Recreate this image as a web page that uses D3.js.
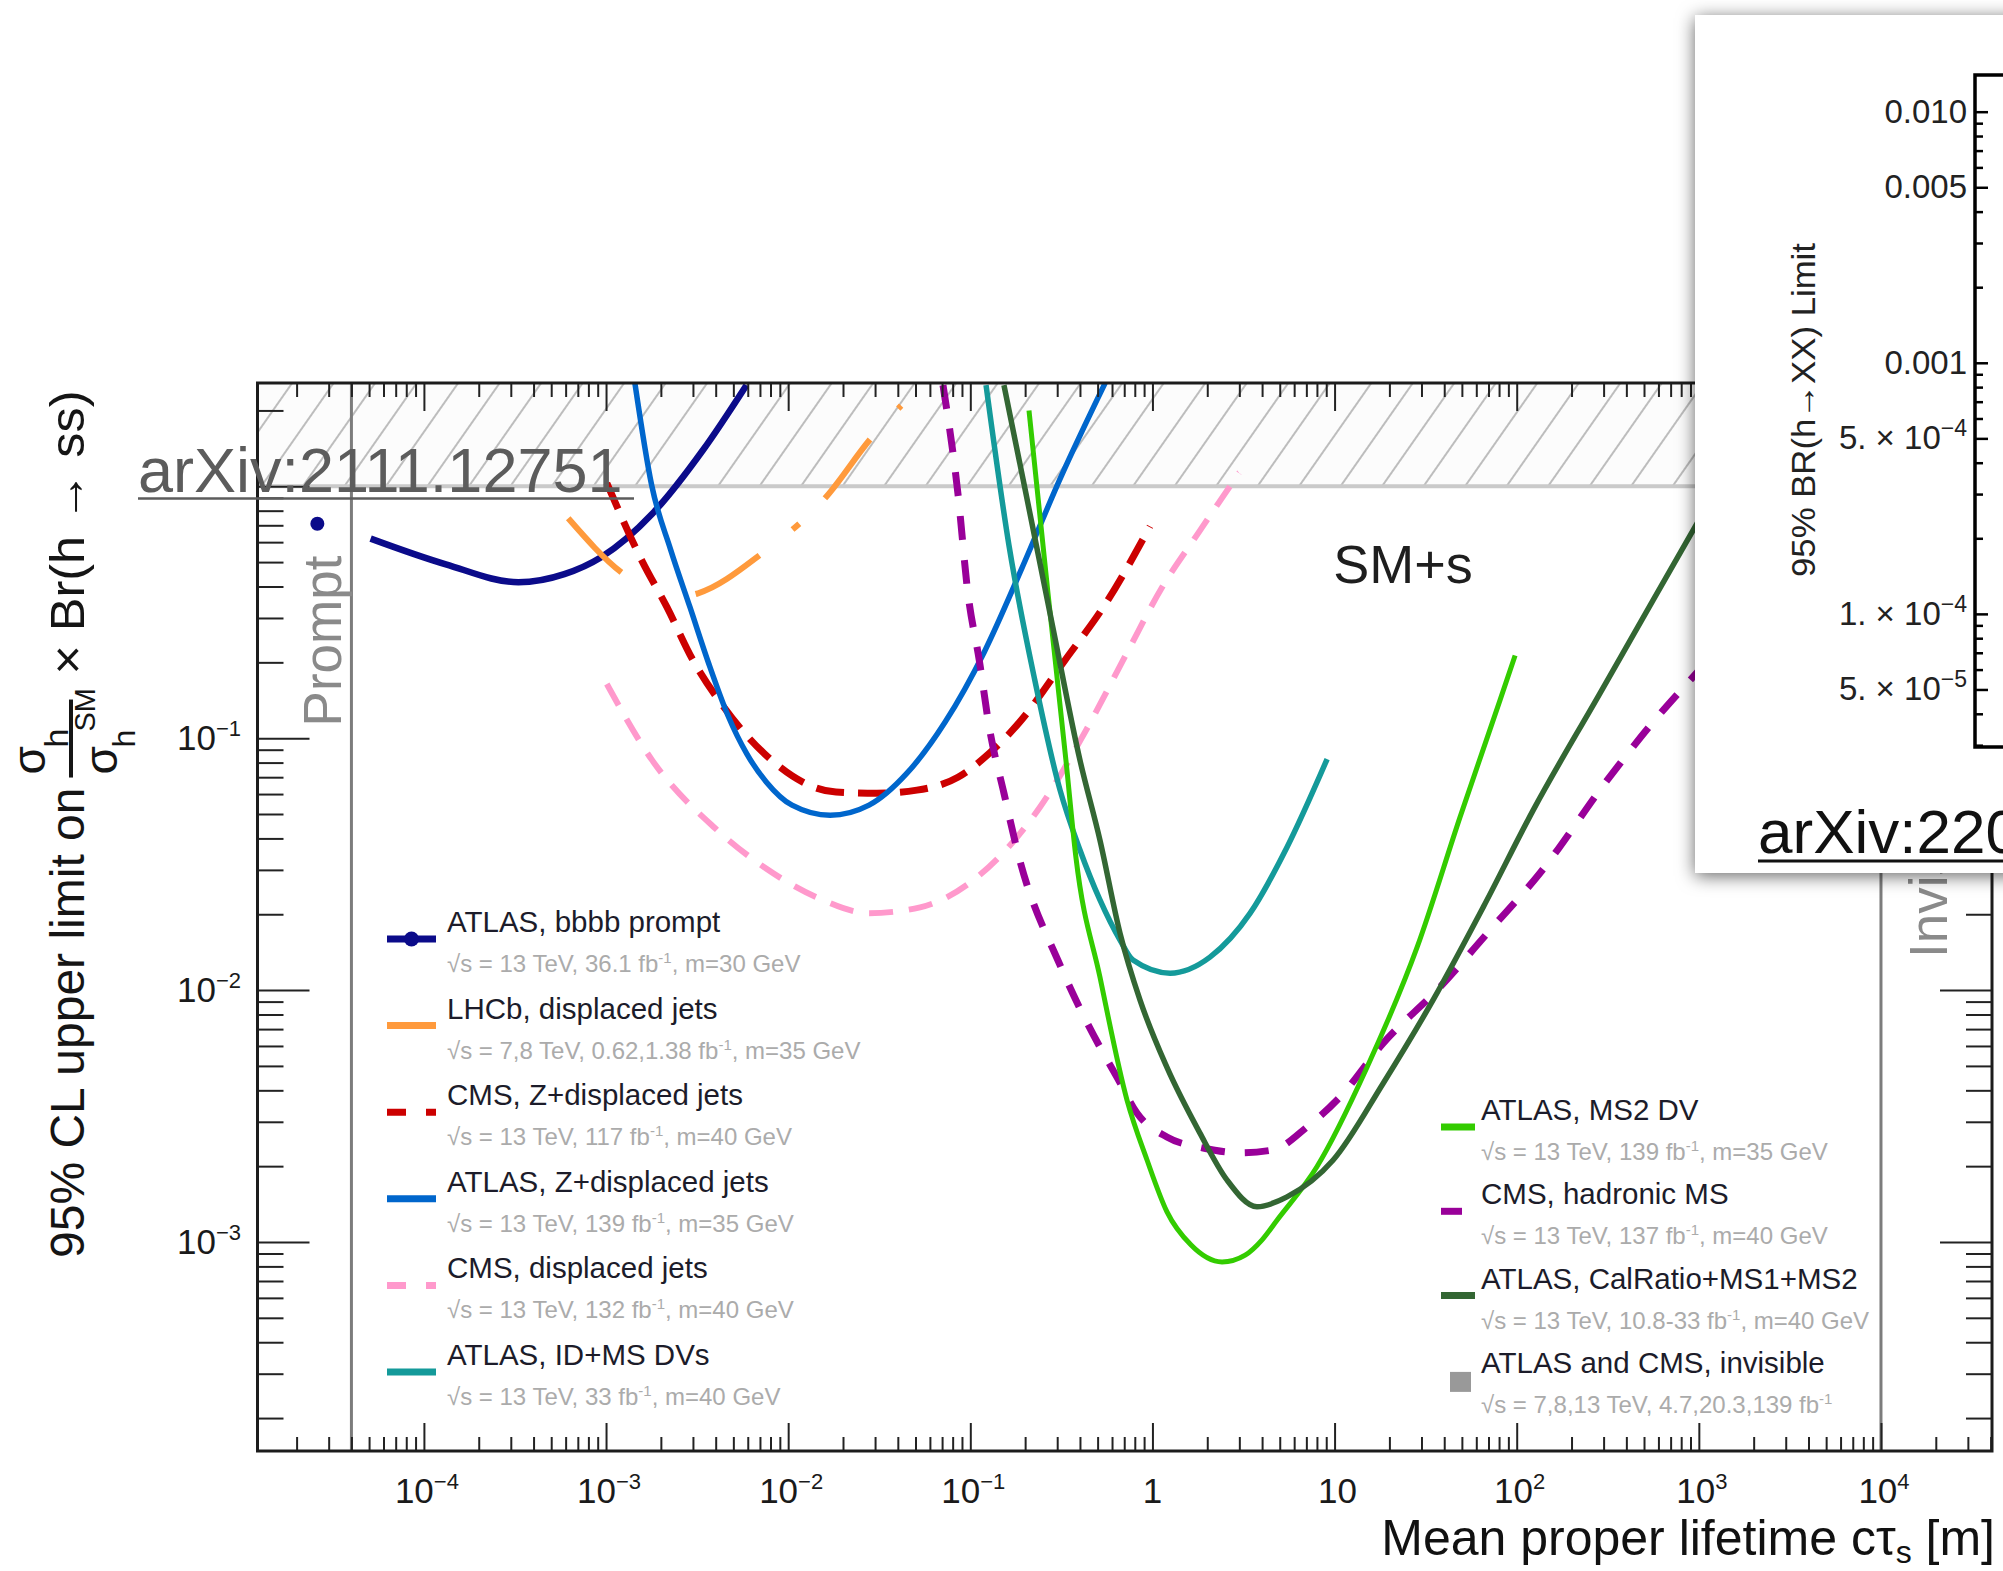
<!DOCTYPE html>
<html>
<head>
<meta charset="utf-8">
<script src="https://cdn.jsdelivr.net/npm/d3@7"></script>
<style>
  html, body { margin: 0; padding: 0; background: #fff; }
  svg { display: block; font-family: "Liberation Sans", Arial, Helvetica, sans-serif; }
</style>
</head>
<body>
<svg id="chart" width="2003" height="1571"></svg>
<script>
// ---- data (ctau in m, limit on sigma/sigma_SM x Br) ----
const bbbbCtau  = [5.1e-5, 1.32e-4, 3.3e-4, 5.9e-4, 9.4e-4, 1.8e-3, 3.4e-3, 5.9e-3];
const bbbbLimit = [0.62, 0.49, 0.416, 0.448, 0.523, 0.78, 1.39, 2.52];
const promptCtau  = [2.6e-5];
const promptLimit = [0.71];

const lhcbCtau  = [6.2e-4, 1.21e-3, 2.2e-3, 3.2e-3, 7.2e-3, 0.0161, 0.0285, 0.0417];
const lhcbLimit = [0.746, 0.456, 0.36, 0.376, 0.542, 0.904, 1.55, 2.09];

const cmsZCtau  = [1.01e-3, 1.57e-3, 2.16e-3, 3.0e-3, 4.43e-3, 7.36e-3, 0.0183, 0.0307, 0.0509, 0.0855, 0.127, 0.185, 0.331, 0.556, 0.97];
const cmsZLimit = [1.03, 0.508, 0.331, 0.204, 0.133, 0.0871, 0.0611, 0.0605, 0.0622, 0.070, 0.087, 0.115, 0.204, 0.344, 0.693];

const atlasZCtau  = [1.44e-3, 1.78e-3, 2.26e-3, 2.89e-3, 3.67e-3, 4.67e-3, 5.94e-3, 7.6e-3, 0.0105, 0.0170, 0.0278, 0.0449, 0.0726, 0.119, 0.192, 0.311, 0.55];
const atlasZLimit = [2.57, 1.01, 0.562, 0.331, 0.197, 0.123, 0.0864, 0.0669, 0.0542, 0.0494, 0.0542, 0.0726, 0.1156, 0.219, 0.473, 1.07, 2.57];

const cmsDjCtau  = [1.01e-3, 1.79e-3, 3.96e-3, 7.6e-3, 0.0146, 0.0278, 0.053, 0.101, 0.241, 0.432, 0.724, 1.13, 1.78, 2.99];
const cmsDjLimit = [0.164, 0.0818, 0.044, 0.0303, 0.0232, 0.0202, 0.0213, 0.0269, 0.0532, 0.1076, 0.218, 0.397, 0.65, 1.13];

const idmsCtau  = [0.122, 0.163, 0.226, 0.311, 0.40, 0.515, 0.664, 0.782, 1.25, 2.07, 3.44, 5.48, 9.1];
const idmsLimit = [2.52, 0.583, 0.170, 0.0622, 0.036, 0.0228, 0.0158, 0.01315, 0.01167, 0.01352, 0.0202, 0.0369, 0.0826];

const cmsMsCtau  = [0.0708, 0.0855, 0.097, 0.112, 0.127, 0.153, 0.185, 0.311, 0.515, 0.638, 0.822, 1.20, 1.90, 3.03, 4.59, 7.06, 10.7, 18.5, 37.9, 71.4, 134, 314, 590, 863, 1690];
const cmsMsLimit = [2.52, 0.937, 0.376, 0.204, 0.1107, 0.0605, 0.0337, 0.01256, 5.94e-3, 4.52e-3, 3.25e-3, 2.61e-3, 2.36e-3, 2.26e-3, 2.32e-3, 2.86e-3, 3.76e-3, 6.16e-3, 0.01028, 0.0173, 0.0291, 0.0681, 0.121, 0.165, 0.281];

const ms2Ctau  = [0.21, 0.267, 0.335, 0.380, 0.515, 0.725, 0.933, 1.20, 1.63, 2.41, 3.23, 4.0, 4.83, 8.0, 15.1, 28.4, 48.9, 81, 98];
const ms2Limit = [2.0, 0.376, 0.0818, 0.0337, 0.01127, 3.66e-3, 2.12e-3, 1.32e-3, 9.72e-4, 8.33e-4, 8.87e-4, 1.02e-3, 1.22e-3, 1.99e-3, 4.95e-3, 0.0148, 0.0487, 0.1416, 0.213];

const calCtau  = [0.153, 0.202, 0.284, 0.40, 0.515, 0.664, 0.855, 1.20, 1.82, 2.57, 3.75, 5.48, 9.8, 18.5, 34.7, 65.4, 123, 287, 561, 931, 1700];
const calLimit = [2.52, 0.937, 0.275, 0.0818, 0.0394, 0.0168, 9.12e-3, 4.94e-3, 2.71e-3, 1.76e-3, 1.38e-3, 1.51e-3, 2.11e-3, 4.27e-3, 9.12e-3, 0.0213, 0.0517, 0.151, 0.353, 0.669, 1.43];

const promptEdge = 4e-5;      // prompt region boundary
const invisibleEdge = 1e4;    // invisible region boundary
const hatchFrom = 1;          // excluded region above limit = 1

const xTickExp = [-4, -3, -2, -1, 0, 1, 2, 3, 4];
const yTickExp = [-1, -2, -3];

const legendLeftTitles = ['ATLAS, bbbb prompt', 'LHCb, displaced jets', 'CMS, Z+displaced jets',
  'ATLAS, Z+displaced jets', 'CMS, displaced jets', 'ATLAS, ID+MS DVs'];
const legendLeftSubs = [
  ['√s = 13 TeV, 36.1 fb', '-1', ', m=30 GeV'],
  ['√s = 7,8 TeV, 0.62,1.38 fb', '-1', ', m=35 GeV'],
  ['√s = 13 TeV, 117 fb', '-1', ', m=40 GeV'],
  ['√s = 13 TeV, 139 fb', '-1', ', m=35 GeV'],
  ['√s = 13 TeV, 132 fb', '-1', ', m=40 GeV'],
  ['√s = 13 TeV, 33 fb', '-1', ', m=40 GeV']
];
const legendRightTitles = ['ATLAS, MS2 DV', 'CMS, hadronic MS', 'ATLAS, CalRatio+MS1+MS2', 'ATLAS and CMS, invisible'];
const legendRightSubs = [
  ['√s = 13 TeV, 139 fb', '-1', ', m=35 GeV'],
  ['√s = 13 TeV, 137 fb', '-1', ', m=40 GeV'],
  ['√s = 13 TeV, 10.8-33 fb', '-1', ', m=40 GeV'],
  ['√s = 7,8,13 TeV, 4.7,20.3,139 fb', '-1', '']
];

// inset (arXiv:220...) axis
const insetTickValues = [0.01, 0.005, 0.001, 5e-4, 1e-4, 5e-5];
const insetTickLabels = [['0.010', ''], ['0.005', ''], ['0.001', ''], ['5. × 10', '−4'], ['1. × 10', '−4'], ['5. × 10', '−5']];

// ---- layout ----
const W = 2003, H = 1571;
const frame = { left: 257.5, right: 1992, top: 383, bottom: 1451 };
const svg = d3.select('#chart');
const defs = svg.append('defs');

const x = d3.scaleLog().domain([1.22e-5, 4.07e4]).range([frame.left, frame.right]);
const y = d3.scaleLog().domain([1.48e-4, 2.57]).range([frame.bottom, frame.top]);

defs.append('clipPath').attr('id', 'plotClip')
  .append('rect')
    .attr('x', frame.left).attr('y', frame.top)
    .attr('width', frame.right - frame.left).attr('height', frame.bottom - frame.top);

const hatch = defs.append('pattern')
  .attr('id', 'hatch')
  .attr('patternUnits', 'userSpaceOnUse')
  .attr('width', 34).attr('height', 34)
  .attr('patternTransform', 'rotate(35)');
hatch.append('rect').attr('width', 34).attr('height', 34).attr('fill', '#fcfcfc');
hatch.append('line')
  .attr('x1', 17).attr('x2', 17).attr('y1', 0).attr('y2', 34)
  .attr('stroke', '#a8a8a8').attr('stroke-width', 1.5);

const shadow = defs.append('filter').attr('id', 'shadow')
  .attr('x', '-20%').attr('y', '-20%').attr('width', '150%').attr('height', '140%');
shadow.append('feDropShadow')
  .attr('dx', 0).attr('dy', 3).attr('stdDeviation', 9)
  .attr('flood-color', '#000').attr('flood-opacity', 0.6);

// hatched excluded band (limit > 1)
svg.append('rect')
  .attr('x', frame.left).attr('y', frame.top)
  .attr('width', frame.right - frame.left).attr('height', y(hatchFrom) - frame.top)
  .attr('fill', 'url(#hatch)');
svg.append('line')
  .attr('x1', frame.left).attr('x2', frame.right)
  .attr('y1', y(hatchFrom)).attr('y2', y(hatchFrom))
  .attr('stroke', '#cacaca').attr('stroke-width', 4);

// prompt / invisible boundaries
[promptEdge, invisibleEdge].forEach(v => {
  svg.append('line')
    .attr('x1', x(v)).attr('x2', x(v))
    .attr('y1', frame.top).attr('y2', frame.bottom)
    .attr('stroke', '#7c7c7c').attr('stroke-width', 3);
});

// ---- curves ----
const zip = (a, b) => a.map((v, i) => [v, b[i]]);
const series = [
  { pts: zip(bbbbCtau, bbbbLimit),   color: '#0b0b8a', w: 6.5 },
  { pts: zip(lhcbCtau, lhcbLimit),   color: '#ff9a3c', w: 6, dash: '76 82 75 42 9 36 74 42 6 300' },
  { pts: zip(cmsZCtau, cmsZLimit),   color: '#cc0000', w: 7, dash: '28 14' },
  { pts: zip(atlasZCtau, atlasZLimit), color: '#0066cc', w: 5.5 },
  { pts: zip(cmsDjCtau, cmsDjLimit), color: '#ff99cc', w: 6, dash: '24 16' },
  { pts: zip(idmsCtau, idmsLimit),   color: '#149a9a', w: 5.5 },
  { pts: zip(cmsMsCtau, cmsMsLimit), color: '#990099', w: 7, dash: '24 20' },
  { pts: zip(ms2Ctau, ms2Limit),     color: '#33cc00', w: 5 },
  { pts: zip(calCtau, calLimit),     color: '#336633', w: 5.5 }
];

const line = d3.line()
  .x(d => x(d[0]))
  .y(d => y(d[1]))
  .curve(d3.curveMonotoneX);

const curves = svg.append('g').attr('clip-path', 'url(#plotClip)');
curves.selectAll('path')
  .data(series)
  .join('path')
    .attr('d', d => line(d.pts))
    .attr('fill', 'none')
    .attr('stroke', d => d.color)
    .attr('stroke-width', d => d.w)
    .attr('stroke-dasharray', d => d.dash || null)
    .attr('stroke-linecap', 'butt');

curves.selectAll('circle')
  .data(zip(promptCtau, promptLimit))
  .join('circle')
    .attr('cx', d => x(d[0]))
    .attr('cy', d => y(d[1]))
    .attr('r', 7)
    .attr('fill', '#0b0b8a');

// ---- axes (ticks on all four sides, pointing inward) ----
const pow = e => +('1e' + e);
const xMajor = d3.range(-5, 5).map(pow).filter(v => v >= x.domain()[0] && v <= x.domain()[1]);
const xMinor = [];
d3.range(-5, 5).forEach(e => d3.range(2, 10).forEach(m => {
  const v = m * pow(e);
  if (v > x.domain()[0] && v < x.domain()[1]) xMinor.push(v);
}));
const yMajor = d3.range(-4, 1).map(pow).filter(v => v >= y.domain()[0] && v <= y.domain()[1]);
const yMinor = [];
d3.range(-4, 1).forEach(e => d3.range(2, 10).forEach(m => {
  const v = m * pow(e);
  if (v > y.domain()[0] && v < y.domain()[1]) yMinor.push(v);
}));

function ticks(axis, values, size, tx, ty) {
  svg.append('g')
    .attr('transform', `translate(${tx},${ty})`)
    .attr('color', '#222')
    .call(axis.tickValues(values).tickSize(size).tickFormat(''))
    .call(g => g.select('.domain').remove())
    .call(g => g.selectAll('line').attr('stroke-width', 2));
}
ticks(d3.axisBottom(x), xMajor, -28, 0, frame.bottom);
ticks(d3.axisBottom(x), xMinor, -14, 0, frame.bottom);
ticks(d3.axisTop(x), xMajor, -28, 0, frame.top);
ticks(d3.axisTop(x), xMinor, -14, 0, frame.top);
ticks(d3.axisLeft(y), yMajor, -52, frame.left, 0);
ticks(d3.axisLeft(y), yMinor, -26, frame.left, 0);
ticks(d3.axisRight(y), yMajor, -52, frame.right, 0);
ticks(d3.axisRight(y), yMinor, -26, frame.right, 0);

svg.append('rect')
  .attr('x', frame.left).attr('y', frame.top)
  .attr('width', frame.right - frame.left).attr('height', frame.bottom - frame.top)
  .attr('fill', 'none').attr('stroke', '#1c1c1c').attr('stroke-width', 3);

// tick labels
const xLab = svg.append('g').attr('fill', '#1a1a1a').attr('font-size', 35);
xTickExp.forEach(e => {
  const t = xLab.append('text')
    .attr('x', x(pow(e)) + (e === 0 ? 0 : 3))
    .attr('y', 1503)
    .attr('text-anchor', 'middle');
  if (e === 0) t.text('1');
  else if (e === 1) t.text('10');
  else {
    t.append('tspan').text('10');
    t.append('tspan').attr('dy', -14).attr('font-size', 22).text(e < 0 ? '−' + (-e) : String(e));
  }
});
const yLab = svg.append('g').attr('fill', '#1a1a1a').attr('font-size', 35);
yTickExp.forEach(e => {
  const t = yLab.append('text')
    .attr('x', 241)
    .attr('y', y(pow(e)) + 12)
    .attr('text-anchor', 'end');
  t.append('tspan').text('10');
  t.append('tspan').attr('dy', -14).attr('font-size', 22).text('−' + Math.abs(e));
});

// axis titles
svg.append('text')
  .attr('x', 1995).attr('y', 1555)
  .attr('text-anchor', 'end')
  .attr('font-size', 50).attr('fill', '#111')
  .call(t => {
    t.append('tspan').text('Mean proper lifetime cτ');
    t.append('tspan').attr('dy', 8).attr('font-size', 32).text('s');
    t.append('tspan').attr('dy', -8).text(' [m]');
  });

const yTitle = svg.append('g')
  .attr('transform', 'translate(84,1258) rotate(-90)')
  .attr('fill', '#151515');
const yt1 = yTitle.append('text').attr('font-size', 48).text('95% CL upper limit on');
const fx = yt1.node().getComputedTextLength() + 13;
yTitle.append('text').attr('x', fx).attr('y', -39).attr('font-size', 46).text('σ');
yTitle.append('text').attr('x', fx + 27).attr('y', -16).attr('font-size', 34).text('h');
yTitle.append('line')
  .attr('x1', fx - 3).attr('x2', fx + 75).attr('y1', -13).attr('y2', -13)
  .attr('stroke', '#151515').attr('stroke-width', 4);
yTitle.append('text').attr('x', fx).attr('y', 33).attr('font-size', 46).text('σ');
yTitle.append('text').attr('x', fx + 27).attr('y', 51).attr('font-size', 32).text('h');
yTitle.append('text').attr('x', fx + 43).attr('y', 11).attr('font-size', 29).text('SM');
yTitle.append('text').attr('x', fx + 100).attr('font-size', 48)
  .attr('textLength', 284).attr('lengthAdjust', 'spacingAndGlyphs')
  .text('× Br(h → ss)');

// region labels
svg.append('text')
  .attr('transform', `translate(341,641) rotate(-90)`)
  .attr('text-anchor', 'middle')
  .attr('font-size', 53).attr('fill', '#8a8a8a')
  .text('Prompt');
svg.append('text')
  .attr('transform', `translate(1947,958) rotate(-90)`)
  .attr('font-size', 53).attr('fill', '#8a8a8a')
  .text('Invisible');
svg.append('text')
  .attr('x', 1403).attr('y', 583)
  .attr('text-anchor', 'middle')
  .attr('font-size', 54).attr('fill', '#1e1e1e')
  .text('SM+s');

// ---- legends ----
function legendText(g, title, sub, tx, base) {
  g.append('text')
    .attr('x', tx).attr('y', base)
    .attr('font-size', 29.5).attr('fill', '#1c1c2a')
    .text(title);
  const s = g.append('text')
    .attr('x', tx).attr('y', base + 40)
    .attr('font-size', 24).attr('fill', '#ababab');
  s.append('tspan').text(sub[0]);
  s.append('tspan').attr('dy', -9).attr('font-size', 15).text(sub[1]);
  s.append('tspan').attr('dy', 9).text(sub[2]);
}

const legL = svg.append('g');
const leftKeys = [series[0], series[1], series[2], series[3], series[4], series[5]];
legendLeftTitles.forEach((title, i) => {
  const base = 932 + i * 86.6;
  const k = leftKeys[i];
  legL.append('line')
    .attr('x1', 387).attr('x2', 436)
    .attr('y1', base + 7).attr('y2', base + 7)
    .attr('stroke', k.color).attr('stroke-width', 7)
    .attr('stroke-dasharray', k.dash && i !== 1 ? '19 20 10' : null);
  if (i === 0) {
    legL.append('circle').attr('cx', 411.5).attr('cy', base + 7).attr('r', 7.5).attr('fill', k.color);
  }
  legendText(legL, title, legendLeftSubs[i], 447, base);
});

const legR = svg.append('g');
const rightKeys = [series[7], series[6], series[8]];
legendRightTitles.forEach((title, i) => {
  const base = 1120 + i * 84.3;
  if (i < 3) {
    legR.append('line')
      .attr('x1', 1441).attr('x2', i === 1 ? 1462 : 1475)
      .attr('y1', base + 7).attr('y2', base + 7)
      .attr('stroke', rightKeys[i].color).attr('stroke-width', 7);
  } else {
    legR.append('rect')
      .attr('x', 1450).attr('y', base - 1).attr('width', 21).attr('height', 20)
      .attr('fill', '#999');
  }
  legendText(legR, title, legendRightSubs[i], 1481, base);
});

// source label of main figure
svg.append('text')
  .attr('x', 138).attr('y', 492)
  .attr('font-size', 63).attr('fill', '#5c5c5c')
  .text('arXiv:2111.12751');
svg.append('line')
  .attr('x1', 138).attr('x2', 634).attr('y1', 498.5).attr('y2', 498.5)
  .attr('stroke', '#5c5c5c').attr('stroke-width', 2.5);

// ---- inset card (second figure, cropped by the page edge) ----
const card = svg.append('g');
card.append('rect')
  .attr('x', 1695).attr('y', 15)
  .attr('width', 420).attr('height', 858)
  .attr('fill', '#fff')
  .attr('filter', 'url(#shadow)');

const yIn = d3.scaleLog().domain([2.95e-5, 0.0140]).range([747, 75]);
const inMinor = [];
d3.range(-5, -1).forEach(e => d3.range(1, 10).forEach(m => {
  const v = m * pow(e);
  if (v > yIn.domain()[0] && v < yIn.domain()[1] && !insetTickValues.some(t => Math.abs(t - v) / v < 1e-6)) inMinor.push(v);
}));
card.append('g')
  .attr('transform', 'translate(1975,0)')
  .attr('color', '#000')
  .call(d3.axisLeft(yIn).tickValues(insetTickValues).tickSize(-13).tickFormat(''))
  .call(g => g.select('.domain').remove())
  .call(g => g.selectAll('line').attr('stroke-width', 2.5));
card.append('g')
  .attr('transform', 'translate(1975,0)')
  .attr('color', '#000')
  .call(d3.axisLeft(yIn).tickValues(inMinor).tickSize(-8).tickFormat(''))
  .call(g => g.select('.domain').remove())
  .call(g => g.selectAll('line').attr('stroke-width', 2.5));
card.append('path')
  .attr('d', `M2010,75H1975V747H2010`)
  .attr('fill', 'none').attr('stroke', '#000').attr('stroke-width', 3.5);

insetTickValues.forEach((v, i) => {
  const t = card.append('text')
    .attr('x', 1967).attr('y', yIn(v) + 11)
    .attr('text-anchor', 'end')
    .attr('font-size', 33).attr('fill', '#222');
  t.append('tspan').text(insetTickLabels[i][0]);
  if (insetTickLabels[i][1]) {
    t.append('tspan').attr('dy', -13).attr('font-size', 23).text(insetTickLabels[i][1]);
  }
});
card.append('text')
  .attr('transform', 'translate(1815,410) rotate(-90)')
  .attr('text-anchor', 'middle')
  .attr('font-size', 34).attr('fill', '#222')
  .attr('textLength', 334).attr('lengthAdjust', 'spacingAndGlyphs')
  .text('95% BR(h→XX) Limit');
card.append('text')
  .attr('x', 1758).attr('y', 853)
  .attr('font-size', 62).attr('fill', '#111')
  .text('arXiv:220');
card.append('line')
  .attr('x1', 1758).attr('x2', W).attr('y1', 861).attr('y2', 861)
  .attr('stroke', '#111').attr('stroke-width', 3);
</script>
</body>
</html>
